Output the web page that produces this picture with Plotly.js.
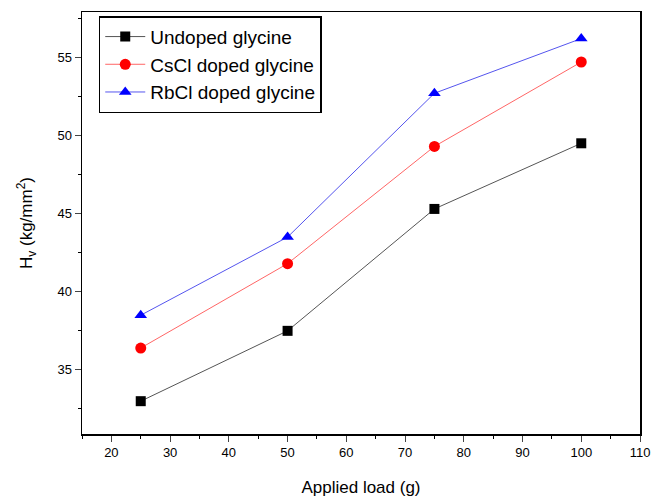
<!DOCTYPE html>
<html><head><meta charset="utf-8">
<script src="https://cdn.plot.ly/plotly-3.0.1.min.js"></script>
<style>html,body{margin:0;padding:0;background:#fff}</style>
</head><body>
<div id="chart" style="width:651px;height:499px"></div>
<script>
const loads = [25, 50, 75, 100];
const undoped = [33.0, 37.5, 45.3, 49.5];
const cscl = [36.4, 41.8, 49.3, 54.7];
const rbcl = [38.5, 43.5, 52.7, 56.2];
const names = ['Undoped glycine', 'CsCl doped glycine', 'RbCl doped glycine'];

const font = 'Liberation Sans, Arial, sans-serif';
const traces = [
  {x: loads, y: undoped, name: names[0], mode: 'lines+markers',
   line: {color: '#555555', width: 1}, marker: {symbol: 'square', size: 10, color: '#000000'}},
  {x: loads, y: cscl, name: names[1], mode: 'lines+markers',
   line: {color: '#ff6666', width: 1}, marker: {symbol: 'circle', size: 11, color: '#ff0000'}},
  {x: loads, y: rbcl, name: names[2], mode: 'lines+markers',
   line: {color: '#5555ee', width: 1}, marker: {symbol: 'triangle-up', size: 11, color: '#0000ff'}}
];
const layout = {
  width: 651, height: 499,
  margin: {l: 82, r: 11, t: 12, b: 65},
  paper_bgcolor: '#fff', plot_bgcolor: '#fff',
  font: {family: font, color: '#000', size: 13},
  showlegend: true,
  legend: {x: 0.03, y: 0.99, xanchor: 'left', yanchor: 'top',
    bordercolor: '#000', borderwidth: 1.5, bgcolor: '#fff',
    font: {family: font, size: 19}, tracegroupgap: 0, itemwidth: 40},
  xaxis: {range: [15, 110], dtick: 10, tick0: 0, ticks: 'outside', ticklen: 6,
    showline: true, mirror: true, linecolor: '#000', linewidth: 1.5, showgrid: false, zeroline: false,
    minor: {dtick: 5, ticks: 'outside', ticklen: 3, tickcolor: '#000'},
    tickfont: {size: 13}, title: {text: 'Applied load (g)', font: {size: 17}, standoff: 22}},
  yaxis: {range: [30.9, 57.9], dtick: 5, tick0: 0, ticks: 'outside', ticklen: 6,
    showline: true, mirror: true, linecolor: '#000', linewidth: 1.5, showgrid: false, zeroline: false,
    minor: {dtick: 2.5, ticks: 'outside', ticklen: 3, tickcolor: '#000'},
    tickfont: {size: 13}, title: {text: 'H<sub>v</sub> (kg/mm<sup>2</sup>)', font: {size: 17}, standoff: 20}}
};
Plotly.newPlot('chart', traces, layout, {displayModeBar: false, staticPlot: true});
</script>
</body></html>
